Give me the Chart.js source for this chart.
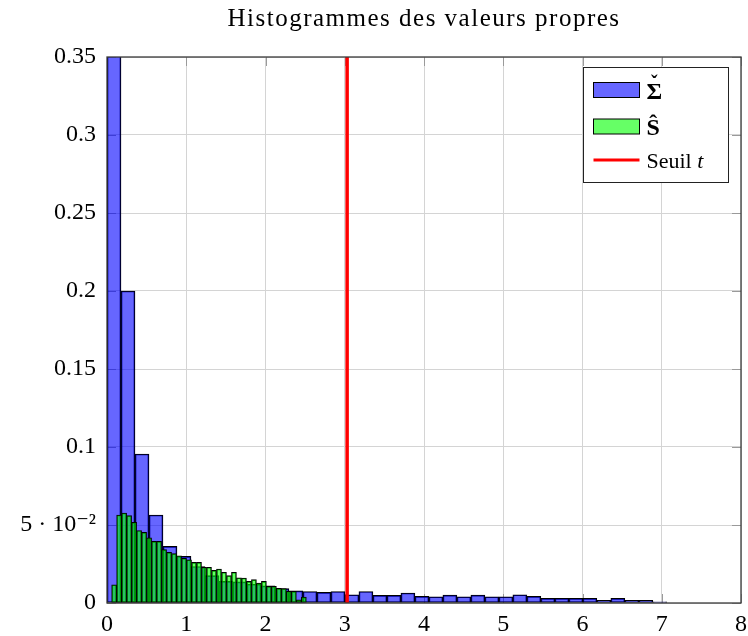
<!DOCTYPE html>
<html lang="fr">
<head>
<meta charset="utf-8">
<title>Histogrammes des valeurs propres</title>
<script src="https://cdn.jsdelivr.net/npm/chart.js@4.4.1/dist/chart.umd.min.js"></script>
<style>
  html, body { margin: 0; padding: 0; background: #fff; }
  #wrap { width: 748px; height: 636px; }
</style>
</head>
<body>
<div id="wrap"><canvas id="histChart" width="748" height="636"></canvas></div>
<script>
// ---------- data ----------
// Sigma check: 40 bins starting at 0
var sigmaBinStart = 0;
var sigmaBinWidth = 0.1766;
var sigmaValues = [0.37, 0.200, 0.0955, 0.0564, 0.0363, 0.0299, 0.0234, 0.0175, 0.0139, 0.0135,
                   0.012, 0.011, 0.0092, 0.0078, 0.0074, 0.0068, 0.0074, 0.0053, 0.0074, 0.0049,
                   0.0049, 0.0064, 0.0042, 0.004, 0.005, 0.004, 0.005, 0.004, 0.004, 0.0053,
                   0.0042, 0.003, 0.003, 0.003, 0.003, 0.0017, 0.003, 0.0017, 0.0017, 0.0007];

// S hat: 39 narrow bins
var sHatBinStart = 0.0585;
var sHatBinWidth = 0.063;
var sHatValues = [0.0117, 0.0564, 0.0577, 0.056, 0.0517, 0.0465, 0.0453, 0.0417, 0.0395, 0.0395,
                  0.0342, 0.0325, 0.0316, 0.0303, 0.0287, 0.0277, 0.026, 0.026, 0.0229, 0.0229,
                  0.0209, 0.0218, 0.0197, 0.0175, 0.0197, 0.0162, 0.016, 0.0139, 0.015, 0.0128,
                  0.0139, 0.0107, 0.0107, 0.0094, 0.0092, 0.0075, 0.0075, 0.002, 0.0038];

var threshold = 3.03;

var xTicks = [0, 1, 2, 3, 4, 5, 6, 7, 8];
var yTicks = [0, 0.05, 0.1, 0.15, 0.2, 0.25, 0.3, 0.35];
var yTickLabels = ['0', '5 \u00B7 10\u207B\u00B2', '0.1', '0.15', '0.2', '0.25', '0.3', '0.35'];

var FONT = "'Liberation Serif', 'DejaVu Serif', serif";

function toBins(values, start, width) {
  return values.map(function (v, i) { return { x: start + (i + 0.5) * width, y: v }; });
}

// frame, inner tick marks, title and legend, drawn the pgfplots way
var pgfPlugin = {
  id: 'pgfDecor',
  beforeDatasetsDraw: function (chart) {
    var a = chart.chartArea, ctx = chart.ctx;
    var xs = chart.scales.x, ys = chart.scales.y;
    ctx.save();
    ctx.strokeStyle = '#9a9a9a';
    ctx.lineWidth = 1;
    ctx.beginPath();
    xTicks.forEach(function (v) {
      var px = Math.round(xs.getPixelForValue(v)) + 0.5;
      ctx.moveTo(px, a.bottom); ctx.lineTo(px, a.bottom - 9);
      ctx.moveTo(px, a.top); ctx.lineTo(px, a.top + 9);
    });
    yTicks.forEach(function (v) {
      var py = Math.round(ys.getPixelForValue(v)) + 0.5;
      ctx.moveTo(a.left, py); ctx.lineTo(a.left + 9, py);
      ctx.moveTo(a.right, py); ctx.lineTo(a.right - 9, py);
    });
    ctx.stroke();
    ctx.restore();
  },
  afterDatasetsDraw: function (chart) {
    var a = chart.chartArea, ctx = chart.ctx;
    ctx.save();
    ctx.strokeStyle = '#3a3a3a';
    ctx.lineWidth = 1.3;
    ctx.strokeRect(a.left, a.top, a.right - a.left, a.bottom - a.top);
    ctx.restore();
  },
  afterDraw: function (chart) {
    var a = chart.chartArea, ctx = chart.ctx;
    ctx.save();
    // title
    ctx.fillStyle = '#000';
    ctx.font = '25px ' + FONT;
    ctx.letterSpacing = '1.5px';
    ctx.textAlign = 'center';
    ctx.textBaseline = 'middle';
    ctx.fillText('Histogrammes des valeurs propres', (a.left + a.right) / 2, 19);
    ctx.letterSpacing = '0px';

    // legend box
    var bx = a.right - 157.5, by = a.top + 10.5, bw = 145, bh = 115;
    ctx.fillStyle = '#fff';
    ctx.fillRect(bx, by, bw, bh);
    ctx.strokeStyle = '#222';
    ctx.lineWidth = 1;
    ctx.strokeRect(bx, by, bw, bh);

    var sx = bx + 10, sw = 46, tx = bx + 63;
    ctx.lineWidth = 1;
    ctx.fillStyle = 'rgb(102,102,255)';
    ctx.fillRect(sx, by + 15, sw, 15);
    ctx.strokeStyle = '#000';
    ctx.strokeRect(sx, by + 15, sw, 15);
    ctx.fillStyle = 'rgb(102,255,102)';
    ctx.fillRect(sx, by + 51.5, sw, 15);
    ctx.strokeRect(sx, by + 51.5, sw, 15);
    ctx.strokeStyle = '#ff0000';
    ctx.lineWidth = 3;
    ctx.beginPath();
    ctx.moveTo(sx, by + 92.5); ctx.lineTo(sx + sw, by + 92.5);
    ctx.stroke();

    ctx.fillStyle = '#000';
    ctx.textAlign = 'left';
    ctx.textBaseline = 'alphabetic';
    ctx.font = 'bold 24px ' + FONT;
    ctx.fillText('\u03A3', tx, by + 31);
    var sigW = ctx.measureText('\u03A3').width;
    ctx.textAlign = 'center';
    ctx.font = 'bold 20px ' + FONT;
    ctx.fillText('\u02C7', tx + sigW / 2, by + 22);
    ctx.textAlign = 'left';
    ctx.font = 'bold 24px ' + FONT;
    ctx.fillText('\u015C', tx, by + 67);
    ctx.font = '22px ' + FONT;
    ctx.fillText('Seuil ', tx, by + 100);
    var w = ctx.measureText('Seuil ').width;
    ctx.font = 'italic 22px ' + FONT;
    ctx.fillText('t', tx + w, by + 100);
    ctx.restore();
  }
};

document.addEventListener('DOMContentLoaded', function () {
  var ctx = document.getElementById('histChart').getContext('2d');
  new Chart(ctx, {
    type: 'bar',
    data: {
      datasets: [{
        label: 'Sigma',
        xAxisID: 'x',
        data: toBins(sigmaValues, sigmaBinStart, sigmaBinWidth),
        backgroundColor: 'rgba(0,0,255,0.6)',
        borderColor: '#000',
        borderWidth: 1,
        borderSkipped: false,
        grouped: false,
        barPercentage: 1,
        categoryPercentage: 1,
        clip: 0,
        order: 3
      }, {
        label: 'S',
        xAxisID: 'x2',
        data: toBins(sHatValues, sHatBinStart, sHatBinWidth),
        backgroundColor: 'rgba(0,255,0,0.6)',
        borderColor: '#000',
        borderWidth: 1,
        borderSkipped: false,
        grouped: false,
        barPercentage: 1,
        categoryPercentage: 1,
        clip: 0,
        order: 2
      }, {
        type: 'line',
        label: 'Seuil t',
        xAxisID: 'x',
        data: [{ x: threshold, y: 0 }, { x: threshold, y: 0.35 }],
        borderColor: '#ff0000',
        borderWidth: 3.5,
        pointRadius: 0,
        fill: false,
        order: 1
      }]
    },
    options: {
      responsive: false,
      animation: false,
      layout: { padding: { top: 57, right: 7, left: 0, bottom: 0 } },
      plugins: {
        legend: { display: false },
        tooltip: { enabled: false },
        title: { display: false }
      },
      scales: {
        x: {
          type: 'linear',
          position: 'bottom',
          offset: false,
          min: 0,
          max: 8,
          afterFit: function (s) { s.height = 33; s.paddingLeft = 0; s.paddingRight = 0; },
          afterBuildTicks: function (s) { s.ticks = xTicks.map(function (v) { return { value: v }; }); },
          grid: { color: '#d4d4d4', lineWidth: 1, drawTicks: false, offset: false },
          border: { display: false },
          ticks: { color: '#000', padding: 7, font: { family: FONT, size: 24 } }
        },
        x2: {
          type: 'linear',
          display: false,
          offset: false,
          min: 0,
          max: 8
        },
        y: {
          type: 'linear',
          min: 0,
          max: 0.35,
          afterFit: function (s) { s.width = 107; s.paddingTop = 0; s.paddingBottom = 0; },
          afterBuildTicks: function (s) { s.ticks = yTicks.map(function (v) { return { value: v }; }); },
          grid: { color: '#d4d4d4', lineWidth: 1, drawTicks: false },
          border: { display: false },
          ticks: {
            color: '#000',
            padding: 11,
            font: { family: FONT, size: 24 },
            callback: function (v, i) { return yTickLabels[i]; }
          }
        }
      }
    },
    plugins: [pgfPlugin]
  });
});
</script>
</body>
</html>
